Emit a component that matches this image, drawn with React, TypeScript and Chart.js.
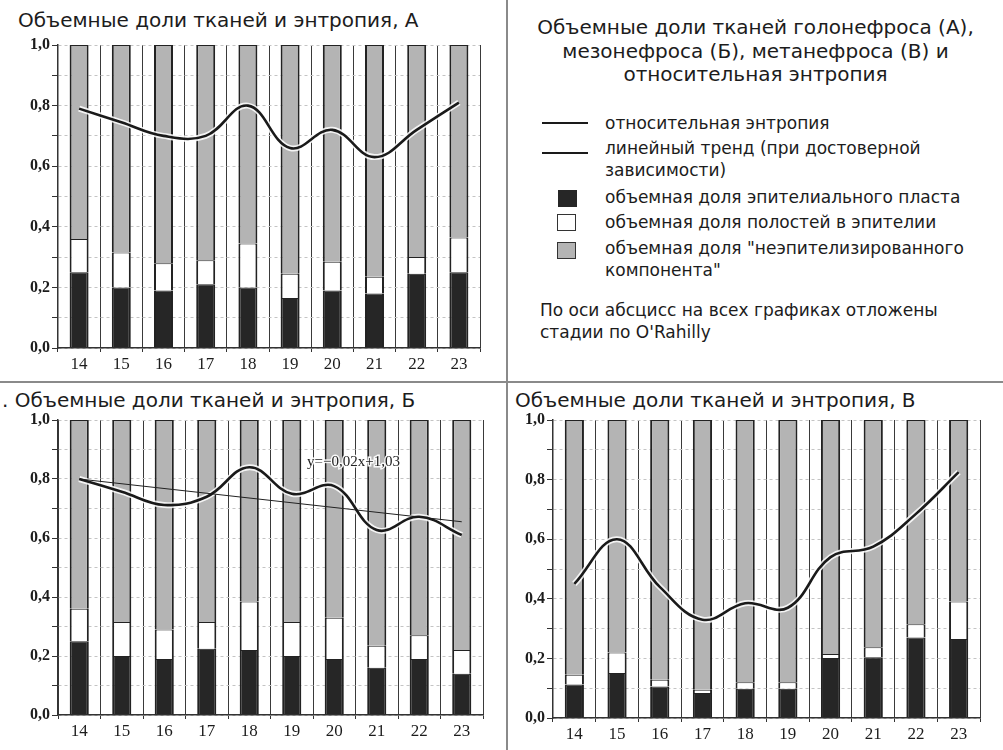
import React, { useEffect, useRef } from 'react';
import { Chart, registerables } from 'chart.js';

Chart.register(...registerables);

// ---------- data ----------
const stages = ['14', '15', '16', '17', '18', '19', '20', '21', '22', '23'];
const yTickLabels = ['0,0', '0,2', '0,4', '0,6', '0,8', '1,0'];

// A — голонефрос
const epiA = [0.25, 0.2, 0.19, 0.21, 0.2, 0.165, 0.19, 0.18, 0.245, 0.25];
const cavA = [0.11, 0.115, 0.09, 0.08, 0.145, 0.08, 0.095, 0.055, 0.055, 0.115];
const nonA = [0.64, 0.685, 0.72, 0.71, 0.655, 0.755, 0.715, 0.765, 0.7, 0.635];
const entA = [0.79, 0.745, 0.7, 0.7, 0.8, 0.66, 0.72, 0.63, 0.72, 0.81];

// Б — мезонефрос
const epiB = [0.25, 0.2, 0.19, 0.225, 0.22, 0.2, 0.19, 0.16, 0.19, 0.14];
const cavB = [0.11, 0.115, 0.1, 0.09, 0.165, 0.115, 0.14, 0.075, 0.08, 0.08];
const nonB = [0.64, 0.685, 0.71, 0.685, 0.615, 0.685, 0.67, 0.765, 0.73, 0.78];
const entB = [0.8, 0.757, 0.712, 0.74, 0.84, 0.75, 0.776, 0.627, 0.672, 0.61];
const trendB = [0.8, null, null, null, null, null, null, null, null, 0.655];
const trendLabelB = 'y=−0,02x+1,03';

// В — метанефрос
const epiC = [0.112, 0.151, 0.106, 0.084, 0.098, 0.098, 0.201, 0.204, 0.27, 0.265];
const cavC = [0.033, 0.069, 0.022, 0.011, 0.022, 0.022, 0.014, 0.033, 0.045, 0.126];
const nonC = [0.855, 0.78, 0.872, 0.905, 0.88, 0.88, 0.785, 0.763, 0.685, 0.609];
const entC = [0.45, 0.6, 0.44, 0.33, 0.385, 0.37, 0.54, 0.575, 0.685, 0.825];

// ---------- styles ----------
const BLACK = '#262626';
const GRAY = '#b4b4b4';
const TEXT = '#1c1c1c';
const SANS = '"DejaVu Sans", Verdana, sans-serif';
const SERIF = '"Liberation Serif", "Times New Roman", serif';

type Geom = { left: number; top: number; width: number; height: number; yw: number; xh: number; padTop: number; padRight: number };

function StackChart(props: {
  epi: number[]; cav: number[]; non: number[]; ent: number[];
  trend?: (number | null)[]; trendLabel?: string; g: Geom;
}) {
  const ref = useRef<HTMLCanvasElement>(null);
  const { epi, cav, non, ent, trend, trendLabel, g } = props;
  useEffect(() => {
    if (!ref.current) return;
    const barCommon = {
      type: 'bar' as const,
      borderColor: '#222',
      borderWidth: { left: 2, right: 2, top: 1, bottom: 0 },
      borderSkipped: false as const,
      barPercentage: 0.45,
      categoryPercentage: 1,
      order: 5,
    };
    const datasets: any[] = [
      { ...barCommon, label: 'epi', data: epi, backgroundColor: BLACK },
      { ...barCommon, label: 'cav', data: cav, backgroundColor: '#ffffff' },
      { ...barCommon, label: 'non', data: non, backgroundColor: GRAY },
      {
        type: 'line', label: 'halo', data: ent, stack: 'halo', order: 2,
        borderColor: 'rgba(255,255,255,0.85)', borderWidth: 6, pointRadius: 0, tension: 0.4, fill: false,
      },
      {
        type: 'line', label: 'entropy', data: ent, stack: 'ent', order: 0,
        borderColor: '#1a1a1a', borderWidth: 2.6, pointRadius: 0, tension: 0.4, fill: false,
      },
    ];
    if (trend) {
      datasets.push({
        type: 'line', label: 'trend', data: trend, stack: 'trend', order: 1, spanGaps: true,
        borderColor: '#222', borderWidth: 1, pointRadius: 0, tension: 0, fill: false,
      });
    }
    const labelPlugin = {
      id: 'trendLabel',
      afterDatasetsDraw(chart: any) {
        if (!trendLabel) return;
        const ctx = chart.ctx;
        const x = chart.scales.x.getPixelForValue(5.36);
        const y = chart.scales.y.getPixelForValue(0.858);
        ctx.save();
        ctx.font = `15px ${SERIF}`;
        ctx.textAlign = 'left';
        ctx.textBaseline = 'middle';
        ctx.lineWidth = 3;
        ctx.strokeStyle = 'rgba(255,255,255,0.9)';
        ctx.strokeText(trendLabel, x, y);
        ctx.fillStyle = '#222';
        ctx.fillText(trendLabel, x, y);
        ctx.restore();
      },
    };
    const chart = new Chart(ref.current, {
      type: 'bar',
      data: { labels: stages, datasets },
      options: {
        animation: false,
        responsive: false,
        maintainAspectRatio: false,
        layout: { padding: { top: g.padTop, right: g.padRight, left: 0, bottom: 0 } },
        plugins: { legend: { display: false }, tooltip: { enabled: false }, title: { display: false } },
        scales: {
          x: {
            stacked: true,
            offset: true,
            grid: { offset: true, color: '#3a3a3a', lineWidth: 1, tickLength: 4, tickColor: '#333' },
            border: { color: '#333', width: 1.5 },
            ticks: { font: { family: SERIF, size: 17 }, color: TEXT, padding: 2, maxRotation: 0 },
            afterFit: (s: any) => { s.height = g.xh; },
          },
          y: {
            stacked: true,
            min: 0,
            max: 1,
            grid: { color: '#c4c4c4', lineWidth: 1, tickLength: 6, tickColor: '#333' },
            border: { color: '#333', width: 1.5, dash: [3, 3] },
            ticks: {
              stepSize: 0.1,
              autoSkip: false,
              padding: 2,
              color: TEXT,
              font: { family: SERIF, size: 16, weight: 'bold' },
              callback: (v: any) => {
                const k = Math.round(Number(v) * 10);
                return k % 2 === 0 ? yTickLabels[k / 2] : '';
              },
            },
            afterFit: (s: any) => { s.width = g.yw; },
          },
        },
      } as any,
      plugins: [labelPlugin],
    });
    return () => chart.destroy();
  }, []);
  return (
    <canvas
      ref={ref}
      width={g.width}
      height={g.height}
      style={{ position: 'absolute', left: g.left, top: g.top, width: g.width, height: g.height }}
    />
  );
}

const titleStyle: React.CSSProperties = {
  position: 'absolute', fontFamily: SANS, fontSize: 20, color: TEXT, lineHeight: '24px', whiteSpace: 'nowrap',
};
const itemStyle: React.CSSProperties = {
  position: 'absolute', left: 605, fontFamily: SANS, fontSize: 17, color: TEXT, lineHeight: '22px', whiteSpace: 'nowrap',
};

export default function App() {
  return (
    <div style={{ position: 'absolute', left: 0, top: 0, width: 1003, height: 750, background: '#fff', overflow: 'hidden' }}>
      {/* dividers */}
      <div style={{ position: 'absolute', left: 506, top: 0, width: 2, height: 750, background: '#8a8a8a' }} />
      <div style={{ position: 'absolute', left: 0, top: 381, width: 1003, height: 2, background: '#8a8a8a' }} />

      {/* chart A */}
      <div style={{ ...titleStyle, left: 18, top: 8 }}>Объемные доли тканей и энтропия, А</div>
      <StackChart epi={epiA} cav={cavA} non={nonA} ent={entA}
        g={{ left: 0, top: 0, width: 505, height: 378, yw: 58, xh: 30, padTop: 45, padRight: 25 }} />

      {/* chart Б */}
      <div style={{ ...titleStyle, left: 2, top: 388 }}>. Объемные доли тканей и энтропия, Б</div>
      <StackChart epi={epiB} cav={cavB} non={nonB} ent={entB} trend={trendB} trendLabel={trendLabelB}
        g={{ left: 0, top: 384, width: 505, height: 366, yw: 58, xh: 35, padTop: 36, padRight: 22 }} />

      {/* chart В */}
      <div style={{ ...titleStyle, left: 515, top: 388 }}>Объемные доли тканей и энтропия, В</div>
      <StackChart epi={epiC} cav={cavC} non={nonC} ent={entC}
        g={{ left: 508, top: 384, width: 495, height: 366, yw: 45, xh: 32, padTop: 36, padRight: 23 }} />

      {/* legend panel */}
      <div style={{ position: 'absolute', left: 508, top: 16, width: 495, textAlign: 'center', fontFamily: SANS, fontSize: 20, lineHeight: '23.5px', color: TEXT }}>
        Объемные доли тканей голонефроса (А),<br />
        мезонефроса (Б), метанефроса (В) и<br />
        относительная энтропия
      </div>
      <div style={{ position: 'absolute', left: 542, top: 122, width: 46, height: 2, background: '#1a1a1a' }} />
      <div style={{ ...itemStyle, top: 112 }}>относительная энтропия</div>
      <div style={{ position: 'absolute', left: 542, top: 152, width: 46, height: 1.5, background: '#1a1a1a' }} />
      <div style={{ ...itemStyle, top: 137 }}>линейный тренд (при достоверной<br />зависимости)</div>
      <div style={{ position: 'absolute', left: 558, top: 190, width: 19, height: 17, background: BLACK }} />
      <div style={{ ...itemStyle, top: 186 }}>объемная доля эпителиального пласта</div>
      <div style={{ position: 'absolute', left: 557, top: 214, width: 17, height: 15, background: '#fff', border: '1.5px solid #333' }} />
      <div style={{ ...itemStyle, top: 211 }}>объемная доля полостей в эпителии</div>
      <div style={{ position: 'absolute', left: 557, top: 242, width: 17, height: 15, background: GRAY, border: '1.5px solid #333' }} />
      <div style={{ ...itemStyle, top: 237 }}>объемная доля "неэпителизированного<br />компонента"</div>
      <div style={{ ...itemStyle, left: 540, top: 299 }}>По оси абсцисс на всех графиках отложены<br />стадии по O'Rahilly</div>
    </div>
  );
}
